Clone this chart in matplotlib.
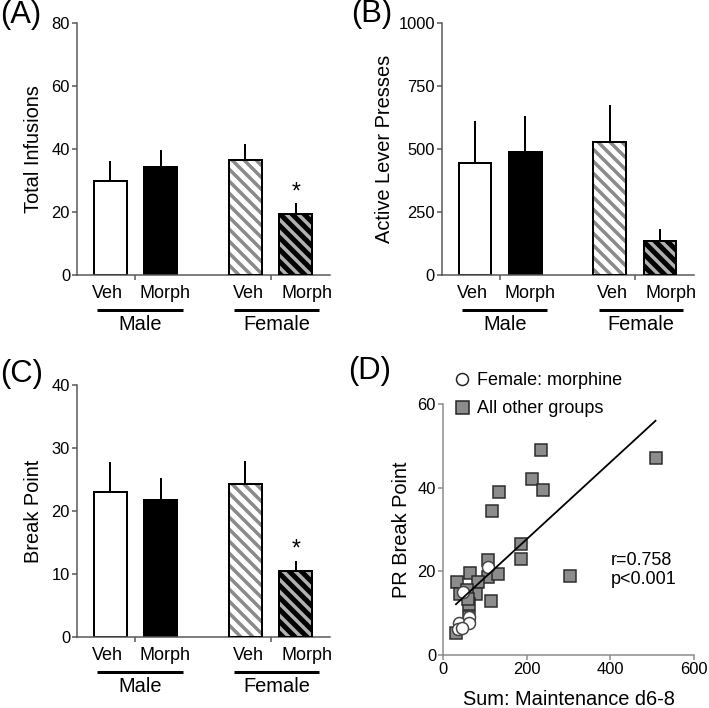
import numpy as np
import matplotlib.pyplot as plt
import matplotlib.transforms as mtransforms
from matplotlib.lines import Line2D

plt.rcParams['font.family'] = ['Liberation Sans', 'DejaVu Sans']
plt.rcParams['hatch.linewidth'] = 3.5

W, H = 709, 708
DPI = 72  # 1 pt == 1 px

# --- data ---
conditions = ['Veh', 'Morph', 'Veh', 'Morph']
sexes = ['Male', 'Female']

infusions = [30.0, 34.3, 36.5, 19.5]
infusions_sem = [6.3, 5.3, 5.2, 3.2]

lever_presses = [443, 487, 527, 135]
lever_presses_sem = [169, 145, 146, 47]

break_point = [23.0, 21.8, 24.3, 10.5]
break_point_sem = [4.8, 3.4, 3.7, 1.6]

# panel D scatter: female morphine rats vs all other rats
fem_morph_x = [47, 107, 39, 35, 63, 61, 45]
fem_morph_y = [15.0, 21.0, 7.7, 6.1, 9.0, 7.7, 6.5]
other_x = [235, 508, 212, 239, 134, 118, 186, 186, 304, 108, 108, 132, 64.5,
           34, 84, 78, 114, 63, 41, 58, 60, 61, 31]
other_y = [49.1, 47.2, 42.0, 39.5, 39.0, 34.5, 26.5, 23.0, 18.8, 22.6, 18.6,
           19.4, 19.5, 17.5, 17.5, 14.6, 13.0, 12.3, 14.6, 15.5, 13.5, 9.2, 5.2]

pos = np.array([0, 1, 2.68, 3.68])
bar_w = 0.65
# face colour, hatch, hatch colour
bar_styles = [('white', None, None), ('black', None, None),
              ('white', '\\\\', '#8a8a8a'), ('black', '\\\\', '#b0b0b0')]
label_x = [-0.05, 1.09, 2.74, 3.9]
group_lines = [(-0.26, 1.44), (2.46, 4.14)]

SPINE = '#555555'


def px(x, y):
    return x / W, 1 - y / H


def bar_panel(ax, vals, sem, ylim, yticks, ylabel, star=False):
    for p, v, (fc, hatch, hc) in zip(pos, vals, bar_styles):
        if hatch:
            ax.bar(p, v, bar_w, color=fc, hatch=hatch, edgecolor=hc, lw=0, zorder=2)
            ax.bar(p, v, bar_w, color='none', edgecolor='black', lw=2, zorder=3)
        else:
            ax.bar(p, v, bar_w, color=fc, edgecolor='black', lw=2, zorder=2)
    ax.errorbar(pos, vals, yerr=[np.zeros(4), sem], fmt='none', ecolor='black',
                elinewidth=2, capsize=0, zorder=1)
    if star:
        ax.text(pos[3], vals[3] + sem[3] + 0.045 * ylim[1], '*', ha='center',
                va='center', fontsize=23)
    ax.set_xlim(-0.66, 4.36)
    ax.set_ylim(*ylim)
    ax.set_yticks(yticks)
    ax.set_xticks([(pos[0] + pos[1]) / 2, (pos[2] + pos[3]) / 2])
    ax.set_xticklabels([])
    ax.set_ylabel(ylabel, fontsize=20)
    ax.yaxis.set_label_coords(-0.134, 0.5)
    for s in ['top', 'right']:
        ax.spines[s].set_visible(False)
    for s in ['left', 'bottom']:
        ax.spines[s].set_color(SPINE)
        ax.spines[s].set_linewidth(1.5)
    ax.tick_params(colors=SPINE, labelcolor='black', labelsize=16.5, width=1.5,
                   length=5, pad=2)
    tr = mtransforms.blended_transform_factory(ax.transData, ax.transAxes)
    for x, lab in zip(label_x, conditions):
        ax.text(x, -0.075, lab, transform=tr, ha='center', va='center', fontsize=18)
    for (x0, x1), sex in zip(group_lines, sexes):
        ax.plot([x0, x1], [-0.139, -0.139], transform=tr, color='black', lw=3,
                clip_on=False, solid_capstyle='butt')
        ax.text((x0 + x1) / 2, -0.195, sex, transform=tr, ha='center',
                va='center', fontsize=20)


fig = plt.figure(figsize=(W / DPI, H / DPI), dpi=DPI)

axA = fig.add_axes([77 / W, 1 - 275 / H, 253 / W, 252 / H])
bar_panel(axA, infusions, infusions_sem, (0, 80), [0, 20, 40, 60, 80],
          'Total Infusions', star=True)

axB = fig.add_axes([442 / W, 1 - 275 / H, 252 / W, 252 / H])
bar_panel(axB, lever_presses, lever_presses_sem, (0, 1000),
          [0, 250, 500, 750, 1000], 'Active Lever Presses')
axB.yaxis.set_label_coords(-0.19, 0.5)

axC = fig.add_axes([77 / W, 1 - 637 / H, 253 / W, 252 / H])
bar_panel(axC, break_point, break_point_sem, (0, 40), [0, 10, 20, 30, 40],
          'Break Point', star=True)

# --- panel D ---
axD = fig.add_axes([443 / W, 1 - 655 / H, 251 / W, 251 / H])
axD.plot(other_x, other_y, 's', ms=12.5, mfc='#8c8c8c', mec='#2a2a2a',
         mew=1.5, zorder=2)
axD.plot(fem_morph_x, fem_morph_y, 'o', ms=12, mfc='white', mec='#444444',
         mew=1.5, zorder=3)
all_x = np.array(fem_morph_x + other_x, dtype=float)
all_y = np.array(fem_morph_y + other_y, dtype=float)
slope, intercept = np.polyfit(all_x, all_y, 1)
xf = np.array([all_x.min(), all_x.max()])
axD.plot(xf, slope * xf + intercept, color='black', lw=1.8, zorder=4)
axD.text(400, 20.3, 'r=0.758\np<0.001', ha='left', va='center', fontsize=18,
         linespacing=1.1)
axD.set_xlim(0, 600)
axD.set_ylim(0, 60)
axD.set_xticks([0, 200, 400, 600])
axD.set_yticks([0, 20, 40, 60])
axD.set_xlabel('Sum: Maintenance d6-8', fontsize=20)
axD.set_ylabel('PR Break Point', fontsize=20)
axD.xaxis.set_label_coords(0.5, -0.14)
axD.yaxis.set_label_coords(-0.127, 0.5)
for s in ['top', 'right']:
    axD.spines[s].set_visible(False)
for s in ['left', 'bottom']:
    axD.spines[s].set_color('#8a8a8a')
    axD.spines[s].set_linewidth(1.5)
axD.tick_params(colors='#8a8a8a', labelcolor='black', labelsize=16.5, width=1.5,
                length=5, pad=2)

handles = [Line2D([], [], marker='o', ls='none', ms=12, mfc='white',
                  mec='#222222', mew=1.5),
           Line2D([], [], marker='s', ls='none', ms=13, mfc='#8c8c8c',
                  mec='#222222', mew=1.5)]
fig.legend(handles, ['Female: morphine', 'All other groups'], loc='upper left',
           bbox_to_anchor=px(453, 372), frameon=False, fontsize=18,
           handlelength=1.0, handletextpad=0.35, labelspacing=0.62,
           borderaxespad=0, borderpad=0)

# panel letters
for lab, (x, y) in zip(['(A)', '(B)', '(C)', '(D)'],
                       [(0, 15), (351, 14), (0, 374), (348, 371)]):
    fig.text(*px(x, y), lab, ha='left', va='center', fontsize=31)

fig.savefig('out.png', dpi=DPI)
